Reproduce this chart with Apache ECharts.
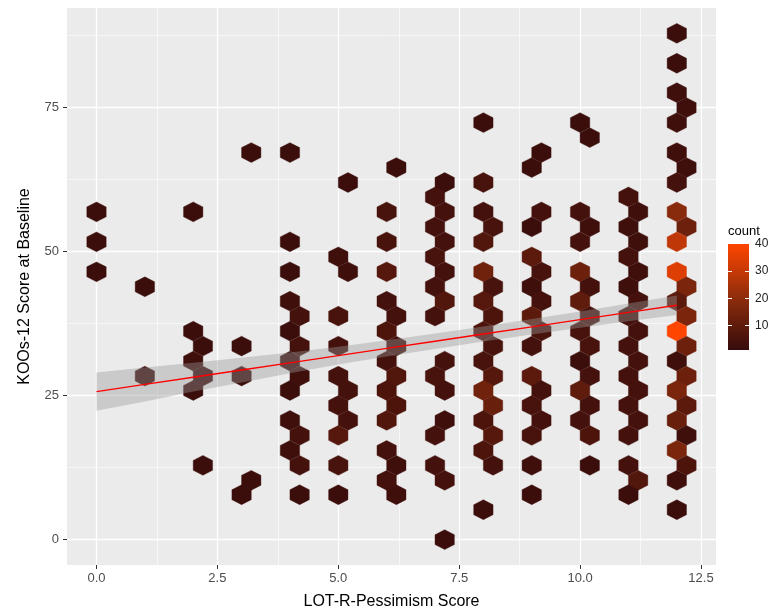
<!DOCTYPE html>
<html>
<head>
<meta charset="utf-8">
<script src="https://cdn.jsdelivr.net/npm/echarts@6/dist/echarts.min.js"></script>
<style>
html, body { margin: 0; padding: 0; background: #fff; }
#chart { width: 779px; height: 615px; }
</style>
</head>
<body>
<div id="chart"></div>
<script>
// hex bin centres (x, y) and counts, one line per column of bins
var hexX = [
    0, 0, 0,
    1, 1,
    2.0, 2.0, 2.2, 2.0, 2.2, 2.0, 2.2,
    3.2, 3.0, 3.0, 3.2, 3.0,
    4.0, 4.0, 4.0, 4.0, 4.2, 4.0, 4.2, 4.0, 4.2, 4.0, 4.0, 4.2, 4.0, 4.2, 4.2,
    5.2, 5.0, 5.2, 5.0, 5.0, 5.0, 5.2, 5.0, 5.2, 5.0, 5.0, 5.0,
    6.2, 6.0, 6.0, 6.0, 6.0, 6.2, 6.0, 6.2, 6.0, 6.2, 6.0, 6.2, 6.0, 6.0, 6.2, 6.0, 6.2,
    7.2, 7.0, 7.2, 7.0, 7.2, 7.0, 7.2, 7.0, 7.2, 7.0, 7.2, 7.0, 7.2, 7.2, 7.0, 7.0, 7.2, 7.2,
    8.0, 8.0, 8.0, 8.2, 8.0, 8.0, 8.2, 8.0, 8.2, 8.0, 8.2, 8.0, 8.2, 8.0, 8.2, 8.0, 8.2, 8.0, 8.2, 8.0,
    9.2, 9.0, 9.2, 9.0, 9.0, 9.2, 9.0, 9.2, 9.0, 9.2, 9.0, 9.0, 9.2, 9.0, 9.2, 9.0, 9.0, 9.0,
    10.0, 10.2, 10.0, 10.2, 10.0, 10.0, 10.2, 10.0, 10.2, 10.0, 10.2, 10.0, 10.2, 10.0, 10.2, 10.0, 10.2, 10.2,
    11.0, 11.2, 11.0, 11.2, 11.0, 11.2, 11.0, 11.2, 11.0, 11.2, 11.0, 11.2, 11.0, 11.2, 11.0, 11.2, 11.0, 11.0, 11.2, 11.0,
    12.0, 12.0, 12.0, 12.2, 12.0, 12.0, 12.2, 12.0, 12.0, 12.2, 12.0, 12.0, 12.2, 12.0, 12.2, 12.0, 12.2, 12.0, 12.2, 12.0, 12.2, 12.0, 12.2, 12.0, 12.2, 12.0, 12.0
];
var hexY = [
    56.9, 51.7, 46.5,
    43.9, 28.4,
    56.9, 36.2, 33.6, 31.0, 28.4, 25.9, 12.9,
    67.2, 33.6, 28.4, 10.3, 7.8,
    67.2, 51.7, 46.5, 41.4, 38.8, 36.2, 33.6, 31.0, 28.4, 25.9, 20.7, 18.1, 15.5, 12.9, 7.8,
    62.0, 49.1, 46.5, 38.8, 33.6, 28.4, 25.9, 23.3, 20.7, 18.1, 12.9, 7.8,
    64.6, 56.9, 51.7, 46.5, 41.4, 38.8, 36.2, 33.6, 31.0, 28.4, 25.9, 23.3, 20.7, 15.5, 12.9, 10.3, 7.8,
    62.0, 59.5, 56.9, 54.3, 51.7, 49.1, 46.5, 43.9, 41.4, 38.8, 31.0, 28.4, 25.9, 20.7, 18.1, 12.9, 10.3, 0,
    72.4, 62.0, 56.9, 54.3, 51.7, 46.5, 43.9, 41.4, 38.8, 36.2, 33.6, 31.0, 28.4, 25.9, 23.3, 20.7, 18.1, 15.5, 12.9, 5.2,
    67.2, 64.6, 56.9, 54.3, 49.1, 46.5, 43.9, 41.4, 38.8, 36.2, 33.6, 28.4, 25.9, 23.3, 20.7, 18.1, 12.9, 7.8,
    72.4, 69.8, 56.9, 54.3, 51.7, 46.5, 43.9, 41.4, 38.8, 36.2, 33.6, 31.0, 28.4, 25.9, 23.3, 20.7, 18.1, 12.9,
    59.5, 56.9, 54.3, 51.7, 49.1, 46.5, 43.9, 41.4, 38.8, 36.2, 33.6, 31.0, 28.4, 25.9, 23.3, 20.7, 18.1, 12.9, 10.3, 7.8,
    87.9, 82.7, 77.6, 75.0, 72.4, 67.2, 64.6, 62.0, 56.9, 54.3, 51.7, 46.5, 43.9, 41.4, 38.8, 36.2, 33.6, 31.0, 28.4, 25.9, 23.3, 20.7, 18.1, 15.5, 12.9, 10.3, 5.2
];
var hexCount = [
    2, 2, 2,
    2, 2,
    2, 2, 2, 3, 2, 2, 2,
    2, 2, 2, 2, 2,
    2, 2, 2, 3, 4, 2, 4, 2, 3, 2, 3, 4, 3, 4, 2,
    2, 3, 3, 5, 4, 4, 4, 4, 4, 8, 5, 2,
    2, 5, 5, 8, 4, 4, 6, 4, 4, 7, 6, 6, 7, 4, 3, 4, 3,
    2, 4, 4, 4, 4, 5, 4, 4, 7, 4, 4, 5, 4, 3, 4, 4, 4, 2,
    2, 5, 4, 5, 7, 14, 5, 8, 6, 6, 5, 5, 8, 14, 12, 6, 8, 6, 4, 2,
    2, 2, 4, 2, 9, 5, 3, 4, 9, 5, 4, 9, 4, 5, 4, 5, 3, 2,
    2, 2, 4, 3, 4, 13, 4, 10, 5, 5, 5, 2, 4, 10, 4, 4, 6, 2,
    4, 3, 3, 3, 4, 3, 3, 4, 4, 4, 4, 4, 4, 4, 4, 4, 4, 4, 7, 2,
    2, 2, 3, 3, 3, 3, 3, 4, 19, 13, 29, 34, 16, 9, 16, 40, 13, 3, 13, 16, 9, 12, 3, 16, 6, 3, 2
];

// linear fit and its confidence band
var fitX = [0, 1, 2, 3, 4, 5, 6, 7, 8, 9, 10, 11, 12];
var fitY = [25.7, 26.95, 28.2, 29.45, 30.7, 31.95, 33.2, 34.45, 35.7, 36.95, 38.2, 39.45, 40.7];
var fitLo = [22.4, 24.0, 25.7, 27.3, 28.9, 30.4, 31.8, 33.1, 34.4, 35.6, 36.8, 37.9, 39.0];
var fitHi = [29.0, 29.9, 30.7, 31.6, 32.5, 33.5, 34.6, 35.8, 37.0, 38.3, 39.6, 41.0, 42.4];

var xTicks = [0, 2.5, 5, 7.5, 10, 12.5];
var xMinor = [1.25, 3.75, 6.25, 8.75, 11.25];
var yTicks = [0, 25, 50, 75];
var yMinor = [12.5, 37.5, 62.5, 87.5];
var countTicks = [10, 20, 30, 40];
var countRange = [1, 40];

var fillColors = ['#360c0c', '#8f2d0c', '#ff4500'];
var HEX_DX = 0.2, HEX_DY = 1.723;

var myChart = echarts.init(document.getElementById('chart'));

function renderHex(params, api) {
    var c = api.coord([api.value(0), api.value(1)]);
    var s = api.size([HEX_DX, HEX_DY]);
    var w = s[0], h = s[1];
    var col = api.visual('color');
    return {
        type: 'polygon',
        shape: {
            points: [
                [c[0] + w, c[1] - h / 2], [c[0], c[1] - h], [c[0] - w, c[1] - h / 2],
                [c[0] - w, c[1] + h / 2], [c[0], c[1] + h], [c[0] + w, c[1] + h / 2]
            ]
        },
        style: { fill: col, stroke: col, lineWidth: 0.4 }
    };
}

// confidence ribbon: upper edge left to right, then lower edge back
function renderBand(params, api) {
    var pts = [];
    for (var i = 0; i < fitX.length; i++) pts.push(api.coord([fitX[i], fitHi[i]]));
    for (var k = fitX.length - 1; k >= 0; k--) pts.push(api.coord([fitX[k], fitLo[k]]));
    return {
        type: 'polygon',
        shape: { points: pts },
        style: { fill: 'rgba(153,153,153,0.4)' }
    };
}

function renderBar(params, api) {
    var p0 = api.coord([0, api.value(2)]);
    var p1 = api.coord([1, api.value(1)]);
    return {
        type: 'rect',
        shape: { x: p0[0], y: p0[1], width: p1[0] - p0[0], height: p1[1] - p0[1] },
        style: {
            fill: new echarts.graphic.LinearGradient(0, 0, 0, 1, [
                { offset: 0, color: fillColors[2] },
                { offset: 0.5, color: fillColors[1] },
                { offset: 1, color: fillColors[0] }
            ])
        }
    };
}

var font = 'Liberation Sans, Arial, sans-serif';

var option = {
    animation: false,
    backgroundColor: '#fff',
    grid: [
        { left: 67, right: 63, top: 8, bottom: 50, show: true, backgroundColor: '#ebebeb', borderWidth: 0 },
        { left: 728, top: 244, width: 21, height: 106 }
    ],
    visualMap: {
        type: 'continuous', show: false, seriesIndex: 0, dimension: 2,
        min: countRange[0], max: countRange[1],
        inRange: { color: fillColors }
    },
    xAxis: [
        {
            type: 'value', gridIndex: 0, min: -0.61, max: 12.81,
            axisLine: { show: false, onZero: false },
            axisTick: { customValues: xTicks, length: 4, lineStyle: { color: '#333' } },
            axisLabel: {
                customValues: xTicks, margin: 7, color: '#4d4d4d', fontSize: 13, fontFamily: font,
                formatter: function (v) { return v.toFixed(1); }
            },
            splitLine: { lineStyle: { color: '#fff', width: 1.3 } },
            name: 'LOT-R-Pessimism Score', nameLocation: 'middle', nameGap: 29,
            nameTextStyle: { color: '#000', fontSize: 16, fontFamily: font }
        },
        {
            type: 'value', gridIndex: 0, min: -0.61, max: 12.81,
            axisLine: { show: false, onZero: false },
            axisTick: { show: false, customValues: xMinor },
            axisLabel: { show: false, customValues: xMinor },
            splitLine: { lineStyle: { color: '#fff', width: 0.6 } }
        },
        { type: 'value', gridIndex: 1, min: 0, max: 1, show: false }
    ],
    yAxis: [
        {
            type: 'value', gridIndex: 0, min: -4.4, max: 92.3,
            axisLine: { show: false, onZero: false },
            axisTick: { customValues: yTicks, length: 4, lineStyle: { color: '#333' } },
            axisLabel: { customValues: yTicks, margin: 8, color: '#4d4d4d', fontSize: 13, fontFamily: font },
            splitLine: { lineStyle: { color: '#fff', width: 1.3 } },
            name: 'KOOs-12 Score at Baseline', nameLocation: 'middle', nameGap: 34,
            nameTextStyle: { color: '#000', fontSize: 16, fontFamily: font }
        },
        {
            type: 'value', gridIndex: 0, min: -4.4, max: 92.3,
            axisLine: { show: false, onZero: false },
            axisTick: { show: false, customValues: yMinor },
            axisLabel: { show: false, customValues: yMinor },
            splitLine: { lineStyle: { color: '#fff', width: 0.6 } }
        },
        {
            type: 'value', gridIndex: 1, position: 'right', min: countRange[0], max: countRange[1], z: 5,
            axisLine: { show: false, onZero: false },
            axisTick: { inside: true, length: 4, customValues: [10, 20, 30], lineStyle: { color: '#fff', width: 1 } },
            axisLabel: { customValues: countTicks, margin: 6, color: '#222', fontSize: 12, fontFamily: font },
            splitLine: { show: false }
        },
        {
            type: 'value', gridIndex: 1, position: 'left', min: countRange[0], max: countRange[1], z: 5,
            axisLine: { show: false, onZero: false },
            axisTick: { inside: true, length: 4, customValues: [10, 20, 30], lineStyle: { color: '#fff', width: 1 } },
            axisLabel: { show: false },
            splitLine: { show: false },
            name: 'count', nameLocation: 'end', nameGap: 6,
            nameTextStyle: { color: '#000', fontSize: 13, fontFamily: font, align: 'left' }
        }
    ],
    series: [
        {
            type: 'custom', xAxisIndex: 0, yAxisIndex: 0, renderItem: renderHex, silent: true,
            data: hexX.map(function (x, i) { return [x, hexY[i], hexCount[i]]; }),
            z: 2
        },
        {
            type: 'custom', xAxisIndex: 0, yAxisIndex: 0, renderItem: renderBand, silent: true,
            data: [[fitX[0], fitY[0]]],
            z: 3
        },
        {
            type: 'line', xAxisIndex: 0, yAxisIndex: 0, symbol: 'none', silent: true,
            lineStyle: { color: '#ff0000', width: 1.4 },
            data: fitX.map(function (x, i) { return [x, fitY[i]]; }),
            z: 4
        },
        {
            type: 'custom', xAxisIndex: 2, yAxisIndex: 2, renderItem: renderBar, silent: true,
            data: [[0, countRange[0], countRange[1]]],
            z: 1
        }
    ]
};

myChart.setOption(option);
</script>
</body>
</html>
